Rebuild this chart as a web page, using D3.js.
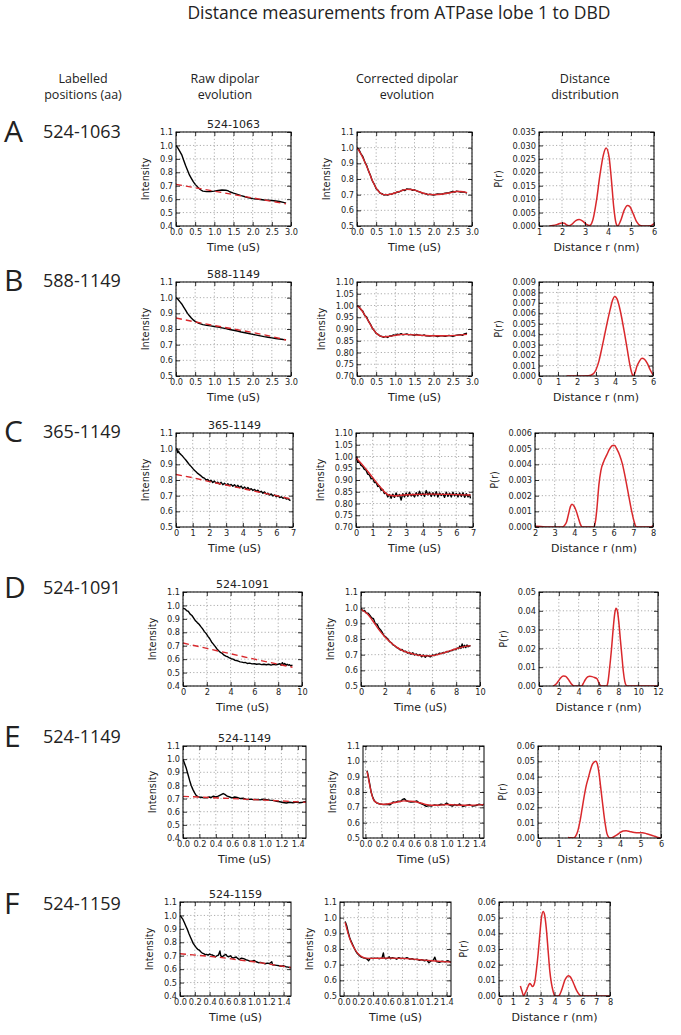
<!DOCTYPE html>
<html><head><meta charset="utf-8">
<script src="https://cdn.jsdelivr.net/npm/d3@7"></script>
<style>
body{margin:0;background:#fff;}
svg text{fill:#222;}
</style></head>
<body><svg id="c" width="681" height="1035"></svg>
<script>
// ---------------- DATA ----------------
const rowLetters = ["A","B","C","D","E","F"];
const rowPositions = ["524-1063","588-1149","365-1149","524-1091","524-1149","524-1159"];
const figTitle = "Distance measurements from ATPase lobe 1 to DBD";
const headerLabelled = ["Labelled","positions (aa)"];
const headerRaw = ["Raw dipolar","evolution"];
const headerCor = ["Corrected dipolar","evolution"];
const headerDist = ["Distance","distribution"];

// tick arrays
const ticksT3 = [0,0.5,1,1.5,2,2.5,3];
const ticksT7 = [0,1,2,3,4,5,6,7];
const ticksT10 = [0,2,4,6,8,10];
const ticksT15 = [0,0.2,0.4,0.6,0.8,1.0,1.2,1.4];
const ticksI04 = [0.4,0.5,0.6,0.7,0.8,0.9,1.0,1.1];
const ticksI05 = [0.5,0.6,0.7,0.8,0.9,1.0,1.1];
const ticksI070 = [0.70,0.75,0.80,0.85,0.90,0.95,1.00,1.05,1.10];
const ticksRA = [1,2,3,4,5,6];
const ticksRB = [0,1,2,3,4,5,6];
const ticksRC = [2,3,4,5,6,7,8];
const ticksRD = [0,2,4,6,8,10,12];
const ticksRE = [0,1,2,3,4,5,6];
const ticksRF = [0,1,2,3,4,5,6,7,8];
const ticksPA = [0,0.005,0.010,0.015,0.020,0.025,0.030,0.035];
const ticksPB = [0,0.001,0.002,0.003,0.004,0.005,0.006,0.007,0.008,0.009];
const ticksPC = [0,0.001,0.002,0.003,0.004,0.005,0.006];
const ticksPD = [0,0.01,0.02,0.03,0.04,0.05];
const ticksPE = [0,0.01,0.02,0.03,0.04,0.05,0.06];

// Row A
const rawA_data = [[0,1.0],[0.05,0.98],[0.1,0.955],[0.15,0.93],[0.2,0.89],[0.25,0.85],[0.3,0.815],[0.35,0.78],[0.4,0.755],[0.45,0.73],[0.5,0.71],[0.55,0.695],[0.6,0.68],[0.65,0.668],[0.7,0.66],[0.8,0.656],[0.9,0.657],[1.0,0.66],[1.1,0.665],[1.2,0.668],[1.3,0.666],[1.35,0.663],[1.4,0.655],[1.5,0.645],[1.6,0.636],[1.7,0.626],[1.8,0.618],[1.9,0.61],[2.0,0.604],[2.1,0.6],[2.2,0.597],[2.3,0.594],[2.4,0.592],[2.5,0.59],[2.6,0.586],[2.7,0.582],[2.8,0.576],[2.87,0.57]];
const rawA_bg = [[0,0.71],[2.87,0.565]];
const corA_data = [[0,1.0],[0.05,0.988],[0.1,0.962],[0.15,0.944],[0.2,0.912],[0.25,0.888],[0.3,0.852],[0.35,0.824],[0.4,0.788],[0.45,0.768],[0.5,0.738],[0.55,0.728],[0.6,0.71],[0.65,0.707],[0.7,0.698],[0.75,0.701],[0.8,0.697],[0.85,0.703],[0.9,0.702],[0.95,0.709],[1.0,0.71],[1.05,0.718],[1.1,0.717],[1.2,0.73],[1.25,0.726],[1.3,0.737],[1.35,0.735],[1.4,0.735],[1.45,0.728],[1.5,0.731],[1.6,0.72],[1.65,0.716],[1.7,0.71],[1.8,0.706],[1.85,0.699],[1.9,0.703],[2.0,0.698],[2.1,0.704],[2.2,0.703],[2.3,0.709],[2.4,0.712],[2.5,0.72],[2.55,0.716],[2.6,0.723],[2.7,0.717],[2.8,0.716],[2.87,0.71]];
const corA_fit = [[0,1.0],[0.1,0.96],[0.2,0.91],[0.3,0.853],[0.4,0.79],[0.5,0.742],[0.6,0.712],[0.7,0.7],[0.8,0.7],[0.9,0.704],[1.0,0.712],[1.1,0.72],[1.2,0.728],[1.3,0.734],[1.4,0.733],[1.5,0.729],[1.6,0.721],[1.7,0.712],[1.8,0.705],[1.9,0.701],[2.0,0.7],[2.2,0.703],[2.4,0.711],[2.6,0.72],[2.7,0.72],[2.87,0.713]];
const distA = [[1.45,0],[1.6,0.0002],[1.8,0.0006],[2.0,0.0011],[2.1,0.001],[2.2,0.0004],[2.3,0.0001],[2.45,0.0008],[2.6,0.002],[2.75,0.0024],[2.9,0.0018],[3.05,0.0007],[3.2,0.0002],[3.35,0.0025],[3.5,0.0095],[3.65,0.019],[3.8,0.0265],[3.92,0.029],[4.05,0.0255],[4.15,0.017],[4.25,0.007],[4.35,0.001],[4.42,0],[4.55,0.002],[4.7,0.0058],[4.85,0.0076],[4.95,0.0072],[5.1,0.0045],[5.25,0.0015],[5.4,0.0002],[5.6,0],[5.85,0.0001],[6.0,0.0009]];

// Row B
const rawB_data = [[0,1.0],[0.05,0.99],[0.1,0.975],[0.15,0.96],[0.2,0.94],[0.25,0.92],[0.3,0.9],[0.35,0.885],[0.4,0.87],[0.45,0.858],[0.5,0.848],[0.6,0.836],[0.7,0.828],[0.8,0.823],[0.9,0.82],[1.0,0.816],[1.1,0.812],[1.2,0.807],[1.3,0.802],[1.4,0.797],[1.5,0.792],[1.6,0.787],[1.7,0.781],[1.8,0.776],[1.9,0.771],[2.0,0.766],[2.1,0.761],[2.2,0.756],[2.3,0.751],[2.4,0.747],[2.5,0.743],[2.6,0.739],[2.7,0.736],[2.8,0.733],[2.87,0.732]];
const rawB_bg = [[0,0.87],[0.5,0.845],[1.0,0.822],[1.5,0.8],[2.0,0.778],[2.5,0.752],[2.87,0.73]];
const corB_data = [[0,1.0],[0.05,0.995],[0.1,0.983],[0.15,0.976],[0.2,0.958],[0.25,0.951],[0.3,0.933],[0.35,0.921],[0.4,0.903],[0.45,0.893],[0.5,0.881],[0.55,0.877],[0.6,0.87],[0.65,0.868],[0.7,0.865],[0.75,0.869],[0.8,0.864],[0.85,0.87],[0.9,0.87],[0.95,0.875],[1.0,0.873],[1.05,0.878],[1.1,0.876],[1.15,0.88],[1.2,0.875],[1.3,0.879],[1.35,0.875],[1.4,0.877],[1.5,0.873],[1.55,0.877],[1.6,0.875],[1.7,0.872],[1.75,0.875],[1.8,0.871],[1.9,0.87],[2.0,0.873],[2.1,0.868],[2.2,0.872],[2.3,0.869],[2.4,0.873],[2.5,0.869],[2.6,0.874],[2.7,0.876],[2.75,0.873],[2.8,0.879],[2.87,0.882]];
const corB_fit = [[0,1.0],[0.1,0.985],[0.2,0.96],[0.3,0.933],[0.4,0.905],[0.5,0.883],[0.6,0.871],[0.7,0.867],[0.8,0.868],[1.0,0.873],[1.2,0.877],[1.4,0.876],[1.7,0.873],[2.0,0.871],[2.3,0.871],[2.6,0.873],[2.87,0.877]];
const distB = [[1.45,0],[2.0,0],[2.6,0.00003],[2.85,0.0002],[3.0,0.0006],[3.15,0.0014],[3.3,0.0026],[3.45,0.0039],[3.6,0.0052],[3.75,0.0064],[3.88,0.0073],[3.98,0.0076],[4.1,0.0074],[4.22,0.0067],[4.35,0.0056],[4.5,0.0041],[4.65,0.0025],[4.78,0.0011],[4.88,0.0003],[4.95,0],[5.05,0.0003],[5.15,0.0009],[5.28,0.0014],[5.42,0.0017],[5.55,0.0016],[5.7,0.0012],[5.85,0.0006],[6.0,0.0001]];

// Row C
const rawC_data = [[0,0.99],[0.05,1.0],[0.1,0.975],[0.15,0.985],[0.2,0.972],[0.3,0.962],[0.4,0.951],[0.5,0.938],[0.6,0.926],[0.7,0.912],[0.8,0.898],[0.9,0.887],[1.0,0.874],[1.1,0.862],[1.2,0.853],[1.3,0.842],[1.4,0.834],[1.5,0.826],[1.6,0.816],[1.7,0.812],[1.8,0.8],[1.9,0.803],[2.0,0.79],[2.1,0.798],[2.2,0.784],[2.3,0.793],[2.4,0.78],[2.5,0.786],[2.6,0.774],[2.7,0.785],[2.8,0.77],[2.9,0.779],[3.0,0.768],[3.1,0.776],[3.2,0.765],[3.3,0.772],[3.4,0.76],[3.5,0.77],[3.6,0.755],[3.7,0.766],[3.8,0.752],[3.9,0.761],[4.0,0.745],[4.1,0.756],[4.2,0.742],[4.3,0.752],[4.4,0.738],[4.5,0.745],[4.6,0.733],[4.7,0.74],[4.8,0.728],[4.9,0.735],[5.0,0.722],[5.1,0.728],[5.2,0.716],[5.3,0.724],[5.4,0.71],[5.5,0.716],[5.6,0.704],[5.7,0.711],[5.8,0.698],[5.9,0.705],[6.0,0.693],[6.1,0.699],[6.2,0.688],[6.3,0.693],[6.4,0.683],[6.5,0.689],[6.6,0.678],[6.7,0.682],[6.8,0.671],[6.85,0.668]];
const rawC_bg = [[0,0.835],[1,0.815],[2,0.79],[3,0.768],[4,0.745],[5,0.722],[6,0.7],[6.85,0.68]];
const corC_data = [[0,0.985],[0.05,0.998],[0.1,0.975],[0.2,0.978],[0.3,0.962],[0.4,0.958],[0.5,0.945],[0.6,0.942],[0.7,0.925],[0.8,0.922],[0.9,0.905],[1.0,0.908],[1.1,0.889],[1.2,0.89],[1.3,0.872],[1.4,0.875],[1.5,0.856],[1.6,0.86],[1.7,0.842],[1.8,0.845],[1.9,0.828],[2.0,0.838],[2.1,0.822],[2.2,0.84],[2.3,0.826],[2.4,0.845],[2.5,0.83],[2.6,0.838],[2.7,0.815],[2.8,0.842],[2.9,0.828],[3.0,0.845],[3.1,0.83],[3.2,0.848],[3.3,0.832],[3.4,0.84],[3.5,0.828],[3.6,0.846],[3.7,0.832],[3.8,0.852],[3.9,0.834],[4.0,0.845],[4.1,0.83],[4.2,0.855],[4.3,0.836],[4.4,0.848],[4.5,0.83],[4.6,0.846],[4.7,0.832],[4.8,0.85],[4.9,0.828],[5.0,0.845],[5.1,0.834],[5.2,0.842],[5.3,0.826],[5.4,0.848],[5.5,0.83],[5.6,0.844],[5.7,0.828],[5.8,0.848],[5.9,0.832],[6.0,0.843],[6.1,0.828],[6.2,0.845],[6.3,0.83],[6.4,0.846],[6.5,0.826],[6.6,0.842],[6.7,0.828],[6.8,0.838],[6.85,0.822]];
const corC_fit = [[0,0.995],[0.5,0.955],[1.0,0.91],[1.5,0.866],[1.8,0.843],[2.0,0.835],[2.3,0.833],[2.7,0.835],[3.5,0.838],[4.5,0.84],[5.5,0.839],[6.85,0.836]];
const distC = [[2.05,0.00005],[2.3,0.00003],[2.6,0],[3.4,0],[3.5,0.0001],[3.6,0.0003],[3.7,0.0008],[3.8,0.0013],[3.88,0.00145],[4.0,0.0013],[4.1,0.001],[4.2,0.0006],[4.3,0.0002],[4.4,0],[5.0,0],[5.08,0.0004],[5.15,0.0012],[5.25,0.0027],[5.35,0.0036],[5.5,0.0042],[5.65,0.0046],[5.8,0.005],[5.95,0.0052],[6.05,0.0052],[6.15,0.005],[6.3,0.0046],[6.45,0.004],[6.6,0.0031],[6.75,0.0021],[6.9,0.0011],[7.05,0.0003],[7.15,0],[7.9,0],[8.0,0.0001]];

// Row D
const rawD_data = [[0,0.98],[0.15,0.975],[0.3,0.962],[0.45,0.955],[0.6,0.935],[0.75,0.925],[0.9,0.905],[1.05,0.885],[1.2,0.872],[1.35,0.86],[1.5,0.842],[1.65,0.825],[1.8,0.805],[1.95,0.79],[2.1,0.77],[2.25,0.752],[2.4,0.728],[2.55,0.712],[2.7,0.695],[2.85,0.676],[3.0,0.662],[3.15,0.65],[3.3,0.642],[3.45,0.63],[3.6,0.622],[3.75,0.618],[3.9,0.61],[4.05,0.603],[4.2,0.6],[4.35,0.592],[4.5,0.59],[4.65,0.585],[4.8,0.58],[4.95,0.578],[5.1,0.574],[5.25,0.575],[5.4,0.568],[5.6,0.57],[5.8,0.565],[6.0,0.566],[6.2,0.562],[6.4,0.565],[6.6,0.559],[6.8,0.562],[7.0,0.558],[7.2,0.562],[7.4,0.556],[7.6,0.561],[7.8,0.557],[8.0,0.562],[8.15,0.566],[8.25,0.555],[8.35,0.574],[8.45,0.56],[8.55,0.568],[8.65,0.553],[8.75,0.562],[8.85,0.555],[8.95,0.558],[9.05,0.551],[9.2,0.555]];
const rawD_bg = [[0,0.72],[2,0.68],[4,0.64],[6,0.6],[8,0.562],[9.2,0.54]];
const corD_data = [[0,0.995],[0.15,0.98],[0.3,0.982],[0.45,0.965],[0.6,0.965],[0.75,0.95],[0.9,0.935],[1.05,0.93],[1.2,0.898],[1.35,0.895],[1.5,0.87],[1.65,0.858],[1.8,0.84],[1.95,0.82],[2.1,0.812],[2.25,0.8],[2.4,0.783],[2.55,0.776],[2.7,0.762],[2.85,0.756],[3.0,0.745],[3.15,0.74],[3.3,0.73],[3.45,0.733],[3.6,0.72],[3.75,0.722],[3.9,0.71],[4.05,0.715],[4.2,0.703],[4.35,0.712],[4.5,0.698],[4.65,0.705],[4.8,0.694],[4.95,0.701],[5.1,0.686],[5.25,0.698],[5.4,0.683],[5.55,0.695],[5.7,0.69],[5.85,0.686],[6.0,0.698],[6.15,0.694],[6.3,0.703],[6.45,0.7],[6.6,0.71],[6.75,0.707],[6.9,0.714],[7.05,0.712],[7.2,0.72],[7.35,0.718],[7.5,0.725],[7.65,0.726],[7.8,0.734],[7.95,0.732],[8.1,0.742],[8.2,0.738],[8.3,0.755],[8.4,0.74],[8.5,0.768],[8.6,0.745],[8.7,0.76],[8.8,0.745],[8.9,0.762],[9.0,0.75],[9.1,0.757],[9.2,0.755]];
const corD_fit = [[0,0.99],[0.5,0.962],[1.0,0.915],[1.5,0.86],[2.0,0.815],[2.5,0.778],[3.0,0.748],[3.5,0.726],[4.0,0.712],[4.5,0.702],[5.0,0.695],[5.5,0.692],[6.0,0.694],[6.5,0.702],[7.0,0.713],[7.5,0.726],[8.0,0.738],[8.5,0.748],[9.2,0.758]];
const distD = [[1.42,0],[1.6,0.0005],[1.8,0.0015],[2.0,0.003],[2.2,0.0044],[2.45,0.0053],[2.65,0.0052],[2.85,0.0043],[3.05,0.0028],[3.25,0.0012],[3.45,0.0002],[3.6,0],[4.3,0],[4.45,0.0012],[4.65,0.0032],[4.9,0.0048],[5.13,0.0052],[5.35,0.005],[5.6,0.0045],[5.85,0.0038],[6.0,0.0022],[6.15,0.0006],[6.3,0],[6.8,0],[6.95,0.002],[7.1,0.0085],[7.3,0.019],[7.5,0.0316],[7.65,0.039],[7.77,0.0414],[7.9,0.04],[8.05,0.034],[8.2,0.025],[8.35,0.0165],[8.5,0.008],[8.65,0.0025],[8.8,0.0003],[8.9,0],[12,0]];

// Row E
const rawE_data = [[0,1.0],[0.02,0.965],[0.04,0.93],[0.06,0.885],[0.08,0.84],[0.1,0.8],[0.12,0.77],[0.14,0.745],[0.16,0.725],[0.18,0.715],[0.2,0.712],[0.24,0.708],[0.28,0.705],[0.32,0.712],[0.34,0.708],[0.37,0.718],[0.4,0.712],[0.43,0.718],[0.46,0.728],[0.49,0.738],[0.51,0.732],[0.54,0.718],[0.57,0.712],[0.6,0.705],[0.63,0.712],[0.66,0.708],[0.7,0.7],[0.74,0.702],[0.78,0.692],[0.82,0.696],[0.86,0.692],[0.9,0.694],[0.94,0.69],[0.98,0.695],[1.02,0.692],[1.06,0.688],[1.1,0.686],[1.14,0.68],[1.18,0.676],[1.22,0.67],[1.26,0.666],[1.3,0.672],[1.34,0.668],[1.38,0.674],[1.42,0.668],[1.46,0.672],[1.5,0.678]];
const rawE_bg = [[0,0.717],[0.5,0.703],[1.0,0.688],[1.5,0.672]];
const corE_data = [[0.02,0.94],[0.03,0.915],[0.05,0.86],[0.07,0.8],[0.09,0.765],[0.11,0.742],[0.14,0.728],[0.18,0.722],[0.22,0.718],[0.26,0.72],[0.3,0.716],[0.32,0.724],[0.34,0.735],[0.37,0.732],[0.4,0.74],[0.43,0.738],[0.46,0.752],[0.48,0.756],[0.5,0.744],[0.53,0.738],[0.56,0.734],[0.6,0.736],[0.63,0.742],[0.66,0.73],[0.69,0.722],[0.72,0.716],[0.75,0.706],[0.78,0.712],[0.81,0.708],[0.85,0.716],[0.89,0.712],[0.93,0.72],[0.97,0.716],[1.0,0.728],[1.03,0.716],[1.07,0.708],[1.1,0.718],[1.13,0.712],[1.16,0.722],[1.2,0.706],[1.24,0.712],[1.28,0.718],[1.32,0.708],[1.36,0.712],[1.4,0.72],[1.44,0.714],[1.46,0.722]];
const corE_fit = [[0.02,0.935],[0.04,0.88],[0.06,0.825],[0.08,0.78],[0.1,0.75],[0.13,0.732],[0.18,0.722],[0.25,0.72],[0.33,0.728],[0.4,0.735],[0.47,0.742],[0.55,0.74],[0.63,0.735],[0.72,0.722],[0.8,0.714],[0.9,0.714],[1.0,0.718],[1.1,0.716],[1.2,0.714],[1.3,0.714],[1.4,0.716],[1.46,0.718]];
const distE = [[1.46,0.0003],[1.6,0.0001],[1.74,0],[1.85,0.0015],[1.95,0.005],[2.05,0.011],[2.15,0.019],[2.25,0.027],[2.35,0.034],[2.45,0.039],[2.55,0.044],[2.65,0.048],[2.75,0.0497],[2.82,0.05],[2.9,0.048],[2.98,0.042],[3.05,0.034],[3.12,0.026],[3.2,0.017],[3.28,0.009],[3.36,0.003],[3.45,0.0005],[3.55,0],[3.7,0.0008],[3.85,0.002],[4.0,0.0035],[4.15,0.0045],[4.3,0.0047],[4.5,0.0041],[4.7,0.0036],[4.9,0.0034],[5.1,0.0034],[5.3,0.0028],[5.5,0.002],[5.7,0.0011],[5.85,0.0004],[6.0,0]];

// Row F
const rawF_data = [[0,1.0],[0.02,0.985],[0.04,0.97],[0.06,0.945],[0.08,0.92],[0.1,0.895],[0.12,0.865],[0.14,0.84],[0.16,0.815],[0.18,0.79],[0.2,0.775],[0.22,0.76],[0.24,0.748],[0.26,0.742],[0.28,0.73],[0.3,0.72],[0.32,0.715],[0.34,0.708],[0.36,0.71],[0.38,0.705],[0.4,0.712],[0.42,0.708],[0.44,0.705],[0.46,0.698],[0.48,0.692],[0.5,0.7],[0.52,0.705],[0.54,0.735],[0.55,0.7],[0.57,0.69],[0.6,0.705],[0.62,0.71],[0.64,0.695],[0.66,0.692],[0.68,0.7],[0.7,0.688],[0.72,0.682],[0.74,0.688],[0.76,0.69],[0.78,0.68],[0.8,0.672],[0.83,0.682],[0.86,0.678],[0.89,0.67],[0.92,0.665],[0.95,0.658],[0.98,0.662],[1.0,0.665],[1.03,0.655],[1.06,0.648],[1.09,0.65],[1.12,0.645],[1.15,0.64],[1.18,0.645],[1.21,0.642],[1.24,0.655],[1.25,0.632],[1.28,0.63],[1.31,0.628],[1.34,0.625],[1.37,0.622],[1.4,0.625],[1.43,0.618],[1.46,0.615],[1.5,0.61]];
const rawF_bg = [[0,0.715],[0.5,0.69],[1.0,0.655],[1.5,0.612]];
const corF_data = [[0.02,0.975],[0.04,0.95],[0.06,0.91],[0.08,0.875],[0.1,0.85],[0.12,0.83],[0.14,0.81],[0.16,0.79],[0.18,0.775],[0.2,0.765],[0.22,0.755],[0.24,0.748],[0.26,0.745],[0.28,0.742],[0.3,0.74],[0.32,0.735],[0.34,0.725],[0.36,0.74],[0.38,0.742],[0.4,0.738],[0.42,0.742],[0.44,0.74],[0.46,0.742],[0.48,0.738],[0.5,0.74],[0.52,0.74],[0.54,0.775],[0.55,0.745],[0.57,0.738],[0.6,0.742],[0.62,0.75],[0.64,0.738],[0.66,0.745],[0.7,0.74],[0.72,0.735],[0.75,0.745],[0.78,0.738],[0.8,0.742],[0.83,0.738],[0.86,0.745],[0.9,0.735],[0.93,0.738],[0.96,0.732],[1.0,0.735],[1.03,0.728],[1.06,0.732],[1.1,0.725],[1.13,0.73],[1.16,0.712],[1.19,0.725],[1.22,0.728],[1.24,0.748],[1.26,0.72],[1.3,0.715],[1.34,0.722],[1.38,0.718],[1.42,0.725],[1.46,0.715]];
const corF_fit = [[0.02,0.97],[0.06,0.9],[0.1,0.845],[0.15,0.8],[0.2,0.768],[0.25,0.75],[0.3,0.742],[0.4,0.74],[0.6,0.742],[0.8,0.74],[1.0,0.733],[1.2,0.725],[1.46,0.716]];
const distF = [[1.54,0.0064],[1.66,0.003],[1.78,0],[1.88,0.0018],[1.98,0.0036],[2.1,0.0062],[2.22,0.008],[2.32,0.0072],[2.41,0.006],[2.5,0.0068],[2.58,0.009],[2.7,0.017],[2.82,0.027],[2.94,0.039],[3.06,0.05],[3.18,0.054],[3.28,0.052],[3.4,0.044],[3.54,0.029],[3.66,0.016],[3.78,0.008],[3.9,0.003],[4.02,0],[4.2,0],[4.34,0.0004],[4.48,0.003],[4.63,0.007],[4.75,0.0102],[4.87,0.012],[4.99,0.013],[5.1,0.0125],[5.23,0.011],[5.4,0.0075],[5.59,0.0036],[5.78,0.001],[5.95,0],[8,0]];

// ---------------- DRAW ----------------
const svg = d3.select("#c");
const RED = "#d9282c";
const PANEL_FONT = "DejaVu Sans, sans-serif";
const HEAD_FONT = "Open Sans, Noto Sans, sans-serif";

svg.append("text").attr("x",399).attr("y",19).attr("text-anchor","middle")
  .style("font-family",HEAD_FONT).style("font-size","17.5px").text(figTitle);

function header(lines, cx){
  lines.forEach((s,i)=>svg.append("text").attr("x",cx).attr("y",83+i*15.5)
    .attr("text-anchor","middle").style("font-family",HEAD_FONT).style("font-size","12.5px").text(s));
}
header(headerLabelled,83); header(headerRaw,225); header(headerCor,407); header(headerDist,585);

const rowCenterY = [131,280,431,587,736,903];
rowLetters.forEach((L,i)=>{
  svg.append("text").attr("x",4).attr("y",rowCenterY[i]+11).style("font-family",HEAD_FONT)
    .style("font-size","30px").text(L);
  svg.append("text").attr("x",43).attr("y",rowCenterY[i]+6.5).style("font-family",HEAD_FONT)
    .style("font-size","18px").text(rowPositions[i]);
});

let clipId = 0;
function panel(o){
  const xs = d3.scaleLinear().domain(o.xDom).range([o.x0,o.x1]);
  const ys = d3.scaleLinear().domain(o.yDom).range([o.y1,o.y0]);
  const g = svg.append("g");
  g.selectAll(null).data(o.xTicks).enter().append("line")
    .attr("x1",d=>xs(d)).attr("x2",d=>xs(d)).attr("y1",o.y0).attr("y2",o.y1)
    .attr("stroke","#8a8a8a").attr("stroke-width",0.7).attr("stroke-dasharray","1.2,2.2");
  g.selectAll(null).data(o.yTicks).enter().append("line")
    .attr("y1",d=>ys(d)).attr("y2",d=>ys(d)).attr("x1",o.x0).attr("x2",o.x1)
    .attr("stroke","#8a8a8a").attr("stroke-width",0.7).attr("stroke-dasharray","1.2,2.2");
  const id = "clip"+(clipId++);
  svg.append("clipPath").attr("id",id).append("rect")
    .attr("x",o.x0).attr("y",o.y0).attr("width",o.x1-o.x0).attr("height",o.y1-o.y0);
  const sg = g.append("g").attr("clip-path",`url(#${id})`);
  o.series.forEach(s=>{
    const line = d3.line().x(d=>xs(d[0])).y(d=>ys(d[1]))
      .curve(s.smooth ? d3.curveMonotoneX : d3.curveLinear);
    sg.append("path").attr("d",line(s.data)).attr("fill","none")
      .attr("stroke",s.color).attr("stroke-width",s.w||1.5)
      .attr("stroke-dasharray",s.dash||null).attr("stroke-linejoin","round");
  });
  const ax = (a)=>a.style("font-family",PANEL_FONT).style("font-size","8.2px");
  const b = g.append("g").attr("transform",`translate(0,${o.y1})`)
    .call(d3.axisBottom(xs).tickValues(o.xTicks).tickFormat(d3.format(o.xFmt)).tickSize(-4).tickPadding(3.5));
  const t = g.append("g").attr("transform",`translate(0,${o.y0})`)
    .call(d3.axisTop(xs).tickValues(o.xTicks).tickFormat("").tickSize(-4));
  const l = g.append("g").attr("transform",`translate(${o.x0},0)`)
    .call(d3.axisLeft(ys).tickValues(o.yTicks).tickFormat(d3.format(o.yFmt)).tickSize(-4).tickPadding(3));
  const r = g.append("g").attr("transform",`translate(${o.x1},0)`)
    .call(d3.axisRight(ys).tickValues(o.yTicks).tickFormat("").tickSize(-4));
  [b,t,l,r].forEach(a=>{ax(a); a.select(".domain").remove();
    a.selectAll(".tick line").attr("stroke","#000").attr("stroke-width",0.8);
    a.selectAll(".tick text").attr("fill","#222");});
  g.append("rect").attr("x",o.x0).attr("y",o.y0).attr("width",o.x1-o.x0).attr("height",o.y1-o.y0)
    .attr("fill","none").attr("stroke","#000").attr("stroke-width",1);
  const lw = l.node().getBBox().width;
  g.append("text").attr("transform",`translate(${o.x0-lw-10},${(o.y0+o.y1)/2}) rotate(-90)`)
    .attr("dy","0.35em").attr("text-anchor","middle").style("font-family",PANEL_FONT)
    .style("font-size","9.8px").text(o.yLabel);
  g.append("text").attr("x",(o.x0+o.x1)/2).attr("y",o.y1+25).attr("text-anchor","middle")
    .style("font-family",PANEL_FONT).style("font-size","11px").text(o.xLabel);
  if(o.title) g.append("text").attr("x",(o.x0+o.x1)/2).attr("y",o.y0-4).attr("text-anchor","middle")
    .style("font-family",PANEL_FONT).style("font-size","11px").text(o.title);
}

const boxes = [
  {raw:[176,291,132,226], cor:[357,472,132,226], dist:[539,654,132,226]},
  {raw:[176,291,282,376], cor:[357,472,282,376], dist:[539,653,282,376]},
  {raw:[176,293,433,527], cor:[356,473,433,527], dist:[535,653,433,527]},
  {raw:[183,302,592,686], cor:[361,480,592,686], dist:[539,658,592,686]},
  {raw:[183,306,746,838], cor:[363,484,746,838], dist:[538,661,746,838]},
  {raw:[180,291,902,996], cor:[340,451,902,996], dist:[499,610,902,996]}
];
const rowsCfg = [
  {xDom:[0,3],corXDom:[0,3],xT:ticksT3,xF:".1f",rawY:[0.4,1.1],rawYT:ticksI04,rawYF:".1f",corY:[0.5,1.1],corYT:ticksI05,corYF:".1f",
   raw:rawA_data,bg:rawA_bg,cd:corA_data,cf:corA_fit,rDom:[1,6],rT:ticksRA,pDom:[0,0.035],pT:ticksPA,pF:".3f",dist:distA},
  {xDom:[0,3],corXDom:[0,3],xT:ticksT3,xF:".1f",rawY:[0.5,1.1],rawYT:ticksI05,rawYF:".1f",corY:[0.7,1.1],corYT:ticksI070,corYF:".2f",
   raw:rawB_data,bg:rawB_bg,cd:corB_data,cf:corB_fit,rDom:[0,6],rT:ticksRB,pDom:[0,0.009],pT:ticksPB,pF:".3f",dist:distB},
  {xDom:[0,7],corXDom:[0,7],xT:ticksT7,xF:"d",rawY:[0.5,1.1],rawYT:ticksI05,rawYF:".1f",corY:[0.7,1.1],corYT:ticksI070,corYF:".2f",
   raw:rawC_data,bg:rawC_bg,cd:corC_data,cf:corC_fit,rDom:[2,8],rT:ticksRC,pDom:[0,0.006],pT:ticksPC,pF:".3f",dist:distC},
  {xDom:[0,10],corXDom:[0,10],xT:ticksT10,xF:"d",rawY:[0.4,1.1],rawYT:ticksI04,rawYF:".1f",corY:[0.5,1.1],corYT:ticksI05,corYF:".1f",
   raw:rawD_data,bg:rawD_bg,cd:corD_data,cf:corD_fit,rDom:[0,12],rT:ticksRD,pDom:[0,0.05],pT:ticksPD,pF:".2f",dist:distD},
  {xDom:[0,1.5],corXDom:[-0.03,1.46],xT:ticksT15,xF:".1f",rawY:[0.4,1.1],rawYT:ticksI04,rawYF:".1f",corY:[0.5,1.1],corYT:ticksI05,corYF:".1f",
   raw:rawE_data,bg:rawE_bg,cd:corE_data,cf:corE_fit,rDom:[0,6],rT:ticksRE,pDom:[0,0.06],pT:ticksPE,pF:".2f",dist:distE},
  {xDom:[0,1.5],corXDom:[-0.05,1.46],xT:ticksT15,xF:".1f",rawY:[0.4,1.1],rawYT:ticksI04,rawYF:".1f",corY:[0.5,1.1],corYT:ticksI05,corYF:".1f",
   raw:rawF_data,bg:rawF_bg,cd:corF_data,cf:corF_fit,rDom:[0,8],rT:ticksRF,pDom:[0,0.06],pT:ticksPE,pF:".2f",dist:distF}
];

rowsCfg.forEach((c,i)=>{
  const bx = boxes[i];
  panel({x0:bx.raw[0],x1:bx.raw[1],y0:bx.raw[2],y1:bx.raw[3],xDom:c.xDom,yDom:c.rawY,
    xTicks:c.xT,yTicks:c.rawYT,xFmt:c.xF,yFmt:c.rawYF,xLabel:"Time (uS)",yLabel:"Intensity",title:rowPositions[i],
    series:[{data:c.raw,color:"#000",w:1.4},{data:c.bg,color:RED,w:1.4,dash:"6,4"}]});
  panel({x0:bx.cor[0],x1:bx.cor[1],y0:bx.cor[2],y1:bx.cor[3],xDom:c.corXDom,yDom:c.corY,
    xTicks:c.xT,yTicks:c.corYT,xFmt:c.xF,yFmt:c.corYF,xLabel:"Time (uS)",yLabel:"Intensity",
    series:[{data:c.cd,color:"#000",w:1.4},{data:c.cf,color:RED,w:1.4,smooth:true}]});
  panel({x0:bx.dist[0],x1:bx.dist[1],y0:bx.dist[2],y1:bx.dist[3],xDom:c.rDom,yDom:c.pDom,
    xTicks:c.rT,yTicks:c.pT,xFmt:"d",yFmt:c.pF,xLabel:"Distance r (nm)",yLabel:"P(r)",
    series:[{data:c.dist,color:RED,w:1.5,smooth:true}]});
});
</script>
</body></html>
